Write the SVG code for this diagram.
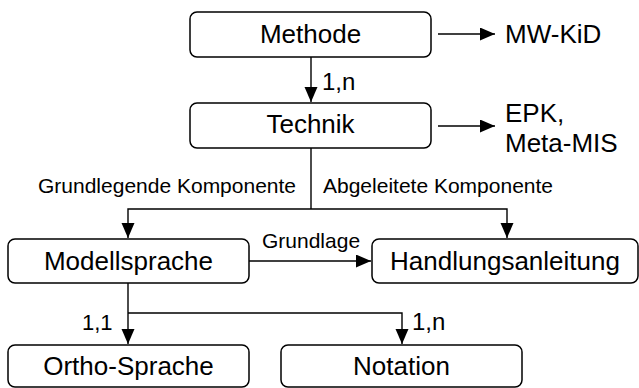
<svg xmlns="http://www.w3.org/2000/svg" width="639" height="388" viewBox="0 0 639 388">
<style>
.box{fill:#fff;stroke:#000;stroke-width:1.5}
.nt{font-family:"Liberation Sans",Arial,sans-serif;font-size:26px;fill:#000;text-anchor:middle}
.lt{font-family:"Liberation Sans",Arial,sans-serif;font-size:21px;fill:#000}
.mt{font-family:"Liberation Sans",Arial,sans-serif;font-size:24px;fill:#000}
.rt{font-family:"Liberation Sans",Arial,sans-serif;font-size:26px;fill:#000}
.ln{fill:none;stroke:#000;stroke-width:1.4}
</style>
<defs>
<marker id="ah" markerUnits="userSpaceOnUse" markerWidth="16" markerHeight="14" refX="15" refY="6.5" orient="auto">
<path d="M0,0 L15,6.5 L0,13 z" fill="#000"/>
</marker>
</defs>
<rect width="639" height="388" fill="#fff"/>
<g id="connectors">
<line class="ln" x1="438" y1="34" x2="495" y2="34" marker-end="url(#ah)"/>
<line class="ln" x1="438" y1="126" x2="495" y2="126" marker-end="url(#ah)"/>
<line class="ln" x1="311" y1="57" x2="311" y2="102" marker-end="url(#ah)"/>
<polyline class="ln" points="311,148 311,209"/>
<polyline class="ln" points="311,209 128,209 128,238" marker-end="url(#ah)"/>
<polyline class="ln" points="311,209 507,209 507,238" marker-end="url(#ah)"/>
<line class="ln" x1="249" y1="261" x2="371" y2="261" marker-end="url(#ah)"/>
<line class="ln" x1="128" y1="283" x2="128" y2="344" marker-end="url(#ah)"/>
<polyline class="ln" points="128,313 402,313 402,344" marker-end="url(#ah)"/>
<text class="mt" x="322" y="90">1,n</text>
<text class="lt" x="38" y="193">Grundlegende Komponente</text>
<text class="lt" x="323" y="193">Abgeleitete Komponente</text>
<text class="lt" x="262" y="248">Grundlage</text>
<text class="mt" x="82" y="330" style="font-size:22px">1,1</text>
<text class="mt" x="412" y="330">1,n</text>
</g>
<g id="methode"><rect class="box" x="190" y="12" width="241" height="45" rx="7"/><text class="nt" x="310.5" y="43">Methode</text></g>
<g id="mwkid"><text class="rt" x="505" y="43">MW-KiD</text></g>
<g id="technik"><rect class="box" x="190" y="103" width="241" height="45" rx="7"/><text class="nt" x="310.5" y="133">Technik</text></g>
<g id="epk"><text class="rt" x="505" y="122">EPK,</text><text class="rt" x="505" y="152">Meta-MIS</text></g>
<g id="modellsprache"><rect class="box" x="8" y="239" width="241" height="44" rx="7"/><text class="nt" x="128.5" y="270">Modellsprache</text></g>
<g id="handlungsanleitung"><rect class="box" x="372" y="239" width="266" height="44" rx="7"/><text class="nt" x="505" y="270">Handlungsanleitung</text></g>
<g id="orthosprache"><rect class="box" x="8" y="345" width="241" height="42" rx="7"/><text class="nt" x="128.5" y="375">Ortho-Sprache</text></g>
<g id="notation"><rect class="box" x="281" y="345" width="241" height="42" rx="7"/><text class="nt" x="401.5" y="375">Notation</text></g>
</svg>
